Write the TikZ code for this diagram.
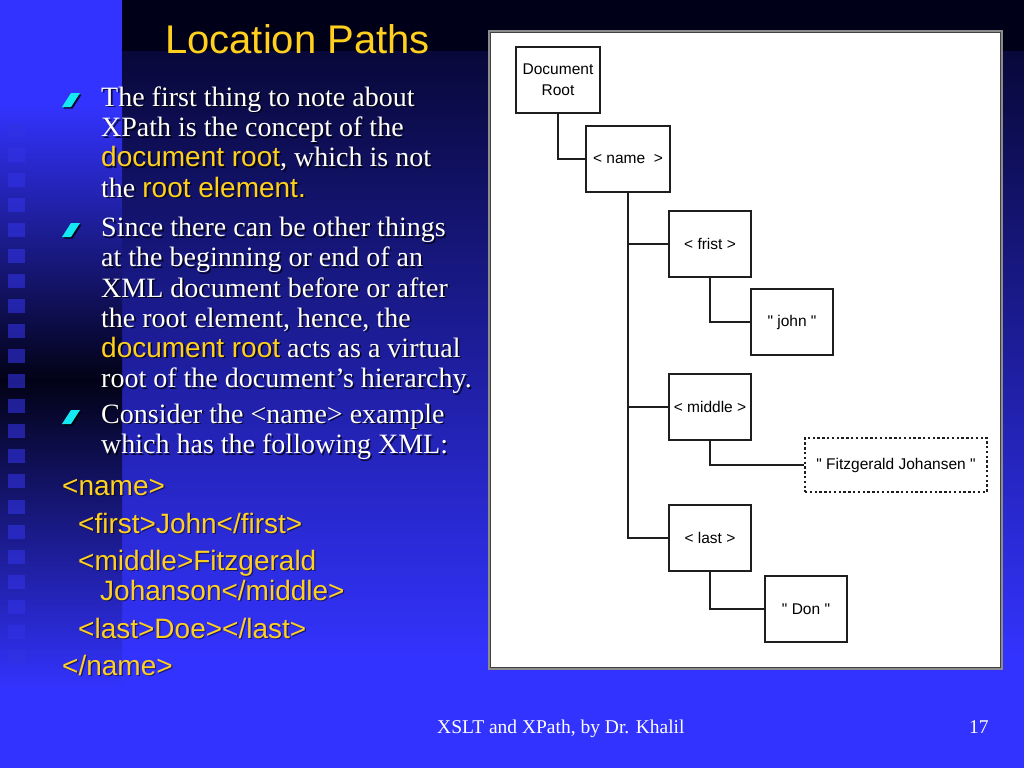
\documentclass[tikz,border=0pt]{standalone}
\usepackage{fontspec}
\setmainfont{Liberation Serif}
\setsansfont{Liberation Sans}
\newfontfamily\diagfont{Liberation Sans}[Ligatures=TeXOff]
\definecolor{bgblue}{RGB}{51,51,255}
\definecolor{topdark}{RGB}{0,0,24}
\definecolor{navytop}{RGB}{8,8,58}
\definecolor{stripdark}{RGB}{2,2,22}
\definecolor{sqblue}{RGB}{50,50,228}
\definecolor{ylw}{RGB}{255,208,30}
\definecolor{cyanb}{RGB}{20,232,242}
\definecolor{boxline}{RGB}{30,30,30}
\newcommand\yl[1]{{\color{ylw}\sffamily #1}}
\newcommand\ylshadow[1]{{\sffamily #1}}
\tikzset{
  bodytxt/.style={anchor=base west, inner sep=0pt, text=white, font=\fontsize{28}{30}\selectfont},
  shadowtxt/.style={anchor=base west, inner sep=0pt, text=black, opacity=0.75, font=\fontsize{28}{30}\selectfont, execute at begin node={\let\yl\ylshadow}},
  xmltxt/.style={anchor=base west, inner sep=0pt, text=ylw, font=\sffamily\fontsize{28}{30}\selectfont},
  xmlshadow/.style={anchor=base west, inner sep=0pt, text=black, opacity=0.5, font=\sffamily\fontsize{28}{30}\selectfont},
  tbox/.style={draw=boxline, line width=2pt, fill=white, inner sep=1pt, align=center, text=black, font=\diagfont\fontsize{15.5}{21}\selectfont},
  dbox/.style={tbox, line width=1.6pt, dash pattern=on 2.4pt off 2.4pt},
  conn/.style={draw=boxline, line width=2pt},
}
\newcommand\bodyline[4]{%
  \node[shadowtxt] (#1s) at (#2+1.6,#3+1.6) {#4};
  \node[bodytxt] (#1) at (#2,#3) {#4};}
\newcommand\xmlline[4]{%
  \node[xmlshadow] (#1s) at (#2+1.2,#3+1.2) {#4};
  \node[xmltxt] (#1) at (#2,#3) {#4};}
\newcommand\bul[2]{%
  \fill[black, opacity=0.8] (#1+1.6,#2+1.6) -- ++(9,0) -- ++(9,-14) -- ++(-9,0) -- cycle;
  \fill[cyanb] (#1,#2) -- ++(9,0) -- ++(9,-14) -- ++(-9,0) -- cycle;}
\begin{document}
\begin{tikzpicture}[x=1pt,y=-1pt]
\useasboundingbox (0,0) rectangle (1024,768);
% background
\fill[bgblue] (0,0) rectangle (1024,768);
\fill[topdark] (122,0) rectangle (1024,52);
\shade[top color=navytop, bottom color=bgblue] (122,52) rectangle (1024,660);
\fill[bgblue] (0,0) rectangle (122,105);
\shade[top color=bgblue, bottom color=stripdark] (0,105) rectangle (122,380);
\shade[top color=stripdark, bottom color=bgblue] (0,380) rectangle (122,690);
\foreach \i in {0,...,21} {
  \fill[sqblue, opacity=0.6] (8,123+25.1*\i) rectangle (25,137+25.1*\i);
}
% title
\node[anchor=base west, inner sep=0pt, text=ylw, font=\sffamily\fontsize{40}{44}\selectfont] (title) at (165,54) {Location Paths};
% bullets
\bul{62}{107}
\bul{62}{237}
\bul{62}{424}
\bodyline{a1}{101}{106}{The first thing to note about}
\bodyline{a2}{101}{136.5}{XPath is the concept of the}
\bodyline{a3}{101}{166.5}{\yl{document root}, which is not}
\bodyline{a4}{101}{197}{the \yl{root element.}}
\bodyline{b1}{101}{236.5}{Since there can be other things}
\bodyline{b2}{101}{266.5}{at the beginning or end of an}
\bodyline{b3}{101}{297}{XML document before or after}
\bodyline{b4}{101}{327}{the root element, hence, the}
\bodyline{b5}{101}{357}{\yl{document root} acts as a virtual}
\bodyline{b6}{101}{387.5}{root of the document’s hierarchy.}
\bodyline{c1}{101}{423}{Consider the <name> example}
\bodyline{c2}{101}{453.5}{which has the following XML:}
\xmlline{x1}{62}{495}{<name>}
\xmlline{x2}{78}{533}{<first>John</first>}
\xmlline{x3}{78}{570}{<middle>Fitzgerald}
\xmlline{x4}{100}{600}{Johanson</middle>}
\xmlline{x5}{78}{638}{<last>Doe></last>}
\xmlline{x6}{62}{675}{</name>}
% footer
\node[anchor=base west, inner sep=0pt, text=white, font=\fontsize{19.5}{22}\selectfont] (foot) at (437,733) {XSLT and XPath, by Dr. Khalil};
\node[anchor=base west, inner sep=0pt, text=white, font=\fontsize{19.5}{22}\selectfont] (page) at (969,733) {17};
% panel
\draw[fill=white, draw=black!45, line width=2pt] (489,31) rectangle (1002,669);
\draw[draw=black!75, line width=0.8pt] (490.5,32.5) rectangle (1000.5,667.5);
% diagram
\node[tbox, minimum width=84pt, minimum height=66pt] (root) at (558,80) {Document\\Root};
\node[tbox, minimum width=84pt, minimum height=66pt] (name) at (628,159) {<~name~~>};
\node[tbox, minimum width=82pt, minimum height=66pt] (first) at (710,244) {<~frist~>};
\node[tbox, minimum width=82pt, minimum height=66pt] (john) at (792,322) {"~john~"};
\node[tbox, minimum width=82pt, minimum height=66pt] (middle) at (710,407) {<~middle~>};
\node[dbox, minimum width=182pt, minimum height=54pt] (fitz) at (896,465) {"~Fitzgerald Johansen~"};
\node[tbox, minimum width=82pt, minimum height=66pt] (last) at (710,538) {<~last~>};
\node[tbox, minimum width=82pt, minimum height=66pt] (don) at (806,609) {"~Don~"};
\draw[conn] (root.south) |- (name.west);
\draw[conn] (name.south) |- (first.west);
\draw[conn] (name.south) |- (middle.west);
\draw[conn] (name.south) |- (last.west);
\draw[conn] (first.south) |- (john.west);
\draw[conn] (middle.south) |- (fitz.west);
\draw[conn] (last.south) |- (don.west);
\end{tikzpicture}
\end{document}
